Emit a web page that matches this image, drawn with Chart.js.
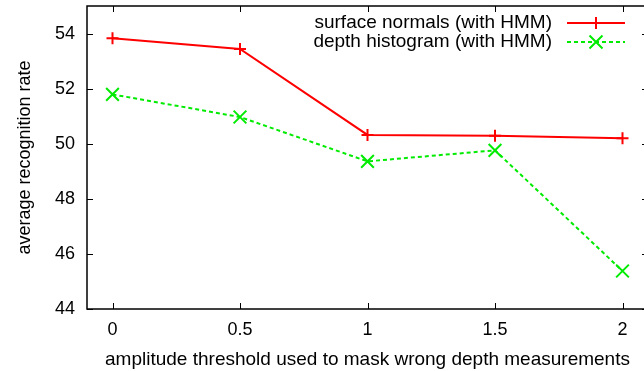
<!DOCTYPE html>
<html>
<head>
<meta charset="utf-8">
<script src="https://cdn.jsdelivr.net/npm/chart.js@4"></script>
<style>
  html, body { margin: 0; padding: 0; background: #fff; overflow: hidden; }
  #wrap { width: 652px; height: 371px; }
</style>
</head>
<body>
<div id="wrap"><canvas id="chart" width="652" height="371"></canvas></div>
<script>
// thresholds on the x axis
const thresholds = [0, 0.5, 1, 1.5, 2];
const surfaceNormals = [53.83, 53.44, 50.32, 50.29, 50.2];
const depthHistogram = [51.79, 50.97, 49.36, 49.76, 45.38];
const xTicks = [0, 0.5, 1, 1.5, 2];
const yTicks = [44, 46, 48, 50, 52, 54];
const seriesNames = ['surface normals (with HMM)', 'depth histogram (with HMM)'];

const FONT = 'Liberation Sans, Arial, sans-serif';
const RED = 'rgb(255,0,0)';
const GREEN = 'rgb(0,235,0)';

function pts(vals) {
  return thresholds.map((x, i) => ({ x: x, y: vals[i] }));
}

// gnuplot style frame with inward ticks and a legend on the right
const gnuFrame = {
  id: 'gnuFrame',
  afterDraw(chart) {
    const ctx = chart.ctx;
    const a = chart.chartArea;
    const xs = chart.scales.x, ys = chart.scales.y;
    ctx.save();
    ctx.strokeStyle = '#000';
    ctx.lineWidth = 1.5;
    ctx.strokeRect(a.left, a.top, a.right - a.left, a.bottom - a.top);
    ctx.lineWidth = 1;
    ctx.beginPath();
    xTicks.forEach(v => {
      const px = Math.round(xs.getPixelForValue(v)) + 0.5;
      ctx.moveTo(px, a.bottom); ctx.lineTo(px, a.bottom - 6);
      ctx.moveTo(px, a.top); ctx.lineTo(px, a.top + 6);
    });
    yTicks.forEach(v => {
      const py = Math.round(ys.getPixelForValue(v)) + 0.5;
      ctx.moveTo(a.left, py); ctx.lineTo(a.left + 6, py);
      ctx.moveTo(a.right, py); ctx.lineTo(a.right - 6, py);
    });
    ctx.stroke();

    // legend
    ctx.font = '19px ' + FONT;
    ctx.textAlign = 'right';
    ctx.textBaseline = 'middle';
    chart.data.datasets.forEach((ds, i) => {
      const y = 23 + i * 19;
      ctx.fillStyle = '#000';
      ctx.fillText(ds.label, 552, y);
      ctx.strokeStyle = ds.borderColor;
      ctx.lineWidth = 2;
      ctx.setLineDash(ds.borderDash || []);
      ctx.beginPath();
      ctx.moveTo(567, y); ctx.lineTo(625, y);
      ctx.stroke();
      ctx.setLineDash([]);
      const cx = 596;
      ctx.beginPath();
      if (ds.pointStyle === 'cross') {
        const r = 6;
        ctx.moveTo(cx - r, y); ctx.lineTo(cx + r, y);
        ctx.moveTo(cx, y - r); ctx.lineTo(cx, y + r);
      } else {
        const d = 6.5;
        ctx.moveTo(cx - d, y - d); ctx.lineTo(cx + d, y + d);
        ctx.moveTo(cx - d, y + d); ctx.lineTo(cx + d, y - d);
      }
      ctx.stroke();
    });
    ctx.restore();
  }
};

new Chart(document.getElementById('chart'), {
  type: 'line',
  data: {
    datasets: [{
      label: seriesNames[0],
      data: pts(surfaceNormals),
      borderColor: RED,
      backgroundColor: RED,
      borderWidth: 2,
      pointStyle: 'cross',
      pointRadius: 6,
      pointBorderWidth: 2,
      fill: false
    }, {
      label: seriesNames[1],
      data: pts(depthHistogram),
      borderColor: GREEN,
      backgroundColor: GREEN,
      borderWidth: 2,
      borderDash: [4, 3],
      pointStyle: 'crossRot',
      pointRadius: 9,
      pointBorderWidth: 2,
      fill: false
    }]
  },
  options: {
    responsive: false,
    animation: false,
    layout: { autoPadding: false, padding: { top: 6, right: 4, left: 0, bottom: 0 } },
    plugins: {
      legend: { display: false },
      tooltip: { enabled: false }
    },
    scales: {
      x: {
        type: 'linear',
        min: -0.1,
        max: 2.1,
        afterFit(s) { s.height = 62; s.paddingLeft = 0; s.paddingRight = 0; },
        afterBuildTicks(s) { s.ticks = xTicks.map(v => ({ value: v })); },
        grid: { display: false, drawTicks: false },
        border: { display: false },
        ticks: {
          padding: 10,
          color: '#000',
          font: { family: FONT, size: 18 },
          maxRotation: 0,
          callback: v => String(v)
        },
        title: {
          display: true,
          text: 'amplitude threshold used to mask wrong depth measurements',
          color: '#000',
          font: { family: FONT, size: 19 },
          padding: { top: 4, bottom: 0 }
        }
      },
      y: {
        min: 44,
        max: 55,
        afterFit(s) { s.width = 87; s.paddingTop = 0; s.paddingBottom = 0; },
        afterBuildTicks(s) { s.ticks = yTicks.map(v => ({ value: v })); },
        grid: { display: false, drawTicks: false },
        border: { display: false },
        ticks: {
          padding: 12,
          color: '#000',
          font: { family: FONT, size: 18 }
        },
        title: {
          display: true,
          text: 'average recognition rate',
          color: '#000',
          font: { family: FONT, size: 18 },
          padding: { top: 14, bottom: 0 }
        }
      }
    }
  },
  plugins: [gnuFrame]
});
</script>
</body>
</html>
